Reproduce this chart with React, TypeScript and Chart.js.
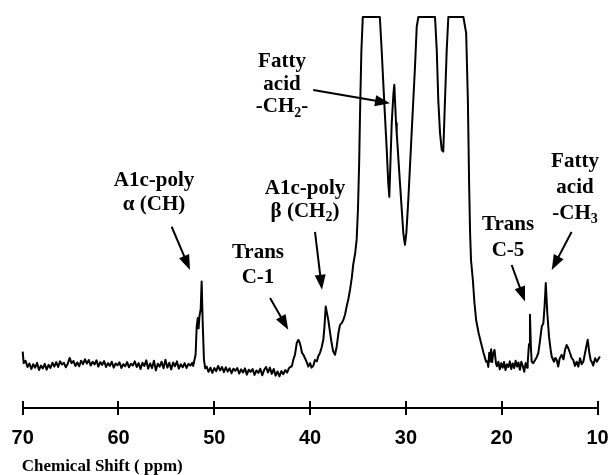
import React, { useEffect, useRef } from 'react';
import { Chart, registerables } from 'chart.js';

Chart.register(...registerables);

// ---- axis ----
const xTicks = [70, 60, 50, 40, 30, 20, 10];
const axisTitle = 'Chemical Shift ( ppm)';

// ---- spectrum data: [ppm, relative intensity] (100 = plotted top / clipped) ----
const baselineLeft: [number, number][] = [
  [70.0, 3.8], [69.9, 0.5], [69.7, 1.2], [69.5, -0.6], [69.3, 0.4], [69.1, -1.2], [68.9, 0.2], [68.7, -0.8],
  [68.5, 0.6], [68.3, -1.5], [68.1, -0.2], [67.9, -1.0], [67.7, 0.3], [67.5, -1.4], [67.3, 0.0], [67.1, -0.9],
  [66.9, 0.6], [66.7, -0.5], [66.5, 0.8], [66.3, -0.6], [66.1, 1.0], [65.9, 0.1], [65.7, 0.6], [65.5, -0.7],
  [65.3, 0.3], [65.1, 2.0], [64.9, 0.5], [64.7, 1.1], [64.5, -0.3], [64.3, 0.7], [64.1, -0.4], [63.9, 1.2],
  [63.7, 0.2], [63.5, 1.6], [63.3, 0.4], [63.1, 1.4], [62.9, -0.2], [62.7, 0.9], [62.5, 0.1], [62.3, 1.3],
  [62.1, -0.5], [61.9, 0.8], [61.7, 0.0], [61.5, 1.1], [61.3, -0.6], [61.1, 0.5], [60.9, -0.3], [60.7, 0.9],
  [60.5, -0.8], [60.3, 0.4], [60.1, -0.1], [59.9, 0.7], [59.7, -0.9], [59.5, 0.2], [59.3, -0.4], [59.1, 0.8],
  [58.9, -0.7], [58.7, 0.3], [58.5, -0.2], [58.3, 1.0], [58.1, -0.6], [57.9, 0.5], [57.7, -1.2], [57.5, 0.6],
  [57.3, -0.3], [57.1, 1.3], [56.9, -1.1], [56.7, 0.4], [56.5, -0.9], [56.3, 1.2], [56.1, -1.6], [55.9, 0.3],
  [55.7, -0.5], [55.5, 0.9], [55.3, -1.0], [55.1, 1.5], [54.9, -0.8], [54.7, 0.6], [54.5, -1.3], [54.3, 0.7],
  [54.1, -0.4], [53.9, 1.0], [53.7, -1.1], [53.5, 0.2], [53.3, -0.7], [53.1, 0.5], [52.9, -0.9], [52.7, 0.3],
  [52.5, -0.2], [52.3, 0.6],
];

const alphaPeak: [number, number][] = [
  [52.2, -0.3], [51.95, 3], [51.84, 11], [51.72, 13.5], [51.64, 10.5], [51.55, 14], [51.42, 16],
  [51.32, 24], [51.21, 12], [51.08, 1.5], [50.95, -1.0],
];

const baselineMid: [number, number][] = [
  [50.8, -0.5], [50.6, -2.0], [50.4, -0.8], [50.2, -2.3], [50.0, -0.9], [49.8, -1.8], [49.6, -0.3], [49.4, -1.6],
  [49.2, -0.6], [49.0, -2.1], [48.8, -0.7], [48.6, -1.9], [48.4, -1.0], [48.2, -2.4], [48.0, -1.1], [47.8, -1.7],
  [47.6, -0.9], [47.4, -2.5], [47.2, -1.3], [47.0, -2.2], [46.8, -1.0], [46.6, -2.8], [46.4, -1.4], [46.2, -2.0],
  [46.0, -1.2], [45.8, -2.9], [45.6, -1.6], [45.4, -2.3], [45.2, -1.1], [45.0, -3.0], [44.8, -1.5], [44.6, -0.6],
  [44.4, -2.2], [44.2, -0.8], [44.0, -2.6], [43.8, -1.2], [43.6, -3.1], [43.4, -1.9], [43.2, -3.3], [43.0, -1.8],
  [42.8, -2.7], [42.6, -1.5], [42.4, -2.2], [42.2, -0.9], [42.0, -0.5],
];

const transC1BetaPeaks: [number, number][] = [
  [41.92, -0.5], [41.75, 1.5], [41.58, 2.9], [41.4, 6.2], [41.23, 7.2], [41.1, 6.5], [40.98, 5.3], [40.85, 3.5],
  [40.7, 2.9], [40.53, 1.9], [40.35, 0.8], [40.19, -0.5], [40.0, 0.5], [39.85, -0.8], [39.67, -0.3], [39.5, 1.4],
  [39.3, 1.0], [39.15, 2.5], [38.97, 3.4], [38.8, 5.0], [38.62, 7.2], [38.5, 11], [38.37, 16.8], [38.25, 15],
  [38.1, 12.9], [37.9, 9], [37.75, 6.2], [37.6, 4], [37.4, 2.9], [37.22, 5.3], [37.05, 9], [36.88, 11.5],
  [36.7, 12], [36.53, 12.9], [36.35, 14.5], [36.18, 16.8], [36.0, 19], [35.83, 21.6], [35.65, 25], [35.49, 29],
  [35.3, 32], [35.14, 36], [35.0, 45], [34.88, 58], [34.79, 72], [34.65, 90], [34.5, 100],
];

const methyleneBand: [number, number][] = [
  [34.45, 100], [32.72, 100], [32.53, 90.5], [32.36, 81], [32.18, 71.3], [32.0, 61.8], [31.84, 52.2],
  [31.73, 48.3], [31.64, 56], [31.48, 69.5], [31.3, 78], [31.21, 80.5], [31.03, 69.5], [30.96, 66.7],
  [30.62, 52.3], [30.27, 37.9], [30.1, 34.5], [29.95, 38], [29.75, 47.4], [29.4, 66.7], [29.05, 85.7],
  [28.87, 97.2], [28.7, 100], [26.96, 100], [26.78, 90.5], [26.62, 76.1], [26.44, 66.7], [26.26, 61.8],
  [26.1, 61.3], [25.92, 76], [25.74, 90.4], [25.57, 100], [24.0, 100], [23.71, 95.4], [23.53, 76],
  [23.4, 52], [23.3, 38], [23.2, 30], [23.01, 24.4], [22.85, 18], [22.67, 12.9], [22.4, 9], [22.15, 6.2],
  [21.9, 3.5], [21.63, 0.9],
];

const baselineRight: [number, number][] = [
  [21.5, 1.0], [21.4, -0.6], [21.3, 3.5], [21.2, 1.0], [21.1, 4.5], [21.0, 0.8], [20.9, 3.0], [20.75, 4.3],
  [20.6, 0.5], [20.5, -0.4], [20.35, 0.9], [20.2, -1.3], [20.05, 0.5], [19.9, -0.8], [19.75, 0.8], [19.6, -1.5],
  [19.45, 0.2], [19.3, -0.6], [19.15, 1.0], [19.0, -1.2], [18.85, 0.4], [18.7, -0.9], [18.55, 1.2], [18.4, -0.5],
  [18.25, 0.7], [18.1, -1.4], [17.95, 0.9], [17.8, -0.3], [17.65, -2.0], [17.5, 0.5],
];

const methylPeaks: [number, number][] = [
  [17.35, -0.8], [17.29, 0.5], [17.15, 6], [17.05, 14.4], [16.95, 5], [16.87, 0.9], [16.7, 0.5], [16.5, 1.5],
  [16.35, 2.2], [16.18, 3.4], [16.0, 7], [15.82, 11], [15.65, 12], [15.52, 17], [15.4, 23.5], [15.24, 14.9],
  [15.06, 8.1], [14.9, 4.5], [14.78, 2.4], [14.54, 0.9], [14.4, 2.0], [14.26, 1.4], [14.1, -0.5], [13.95, 1.8],
  [13.74, 2.9], [13.55, 1.6], [13.4, 4.2], [13.22, 5.7], [13.05, 4.8], [12.87, 3.4], [12.7, 2.0], [12.53, 1.4],
  [12.35, -0.3], [12.17, 0.9], [12.0, -0.5], [11.82, 1.9], [11.65, 0.2], [11.48, 0.9], [11.3, 3.4], [11.15, 5.5],
  [11.02, 7.2], [10.85, 3.4], [10.7, 1.2], [10.6, 0.9], [10.45, -0.2], [10.25, 1.9], [10.07, 0.9], [9.75, 2.4],
];

// ---- annotations (anchored in data coordinates) ----
type Run = { t: string; sub?: boolean };
const notes: { ppm: number; level: number; gap: number; lines: Run[][] }[] = [
  { ppm: 56.29, level: 52.9, gap: 24, lines: [[{ t: 'A1c-poly' }], [{ t: '\u03B1 (CH)' }]] },
  { ppm: 40.53, level: 50.6, gap: 23, lines: [[{ t: 'A1c-poly' }], [{ t: '\u03B2 (CH' }, { t: '2', sub: true }, { t: ')' }]] },
  { ppm: 45.44, level: 32.2, gap: 25, lines: [[{ t: 'Trans' }], [{ t: 'C-1' }]] },
  { ppm: 42.93, level: 87.2, gap: 22.7, lines: [[{ t: 'Fatty' }], [{ t: 'acid' }], [{ t: '-CH' }, { t: '2', sub: true }, { t: '-' }]] },
  { ppm: 19.34, level: 40.2, gap: 25.5, lines: [[{ t: 'Trans' }], [{ t: 'C-5' }]] },
  { ppm: 12.35, level: 58.4, gap: 25.8, lines: [[{ t: 'Fatty' }], [{ t: 'acid' }], [{ t: '-CH' }, { t: '3', sub: true }]] },
];

const arrows: [number, number, number, number][] = [
  [54.45, 39.7, 52.54, 27.3],
  [39.49, 38.2, 38.76, 21.6],
  [44.18, 19.2, 42.28, 10.1],
  [39.67, 79.0, 31.66, 75.2],
  [18.96, 28.7, 17.57, 18.2],
  [12.71, 38.2, 14.78, 27.3],
];

const SERIF = '"Liberation Serif", "Times New Roman", Times, serif';
const SANS = '"Liberation Sans", Arial, Helvetica, sans-serif';

const annotationPlugin = {
  id: 'nmrAnnotations',
  afterDraw(chart: any) {
    const { ctx, scales, chartArea } = chart;
    const xs = scales.x;
    const ys = scales.y;
    ctx.save();
    // upper half of axis tick marks
    ctx.strokeStyle = '#000';
    ctx.lineWidth = 2;
    for (const v of xTicks) {
      const px = Math.round(xs.getPixelForValue(v));
      ctx.beginPath();
      ctx.moveTo(px, chartArea.bottom - 7);
      ctx.lineTo(px, chartArea.bottom);
      ctx.stroke();
    }
    // axis title (left aligned under the axis start)
    ctx.fillStyle = '#000';
    ctx.textBaseline = 'middle';
    ctx.textAlign = 'left';
    ctx.font = `bold 17px ${SERIF}`;
    ctx.fillText(axisTitle, chartArea.left - 1, xs.bottom - 8.5);
    // labels
    const mainFont = `bold 21px ${SERIF}`;
    const subFont = `bold 14px ${SERIF}`;
    for (const n of notes) {
      const cx = xs.getPixelForValue(n.ppm);
      const cy0 = ys.getPixelForValue(n.level);
      n.lines.forEach((runs, i) => {
        const cy = cy0 + i * n.gap;
        let w = 0;
        for (const r of runs) {
          ctx.font = r.sub ? subFont : mainFont;
          w += ctx.measureText(r.t).width;
        }
        let x = cx - w / 2;
        for (const r of runs) {
          ctx.font = r.sub ? subFont : mainFont;
          ctx.fillText(r.t, x, r.sub ? cy + 6 : cy);
          x += ctx.measureText(r.t).width;
        }
      });
    }
    // arrows
    for (const [p1, l1, p2, l2] of arrows) {
      const x1 = xs.getPixelForValue(p1);
      const y1 = ys.getPixelForValue(l1);
      const x2 = xs.getPixelForValue(p2);
      const y2 = ys.getPixelForValue(l2);
      const ang = Math.atan2(y2 - y1, x2 - x1);
      const L = 15;
      const W = 5.5;
      const bx = x2 - L * Math.cos(ang);
      const by = y2 - L * Math.sin(ang);
      ctx.lineWidth = 2;
      ctx.beginPath();
      ctx.moveTo(x1, y1);
      ctx.lineTo(bx + 2 * Math.cos(ang), by + 2 * Math.sin(ang));
      ctx.stroke();
      ctx.beginPath();
      ctx.moveTo(x2, y2);
      ctx.lineTo(bx + W * Math.sin(ang), by - W * Math.cos(ang));
      ctx.lineTo(bx - W * Math.sin(ang), by + W * Math.cos(ang));
      ctx.closePath();
      ctx.fill();
    }
    ctx.restore();
  },
};

export default function App() {
  const canvasRef = useRef<HTMLCanvasElement | null>(null);

  useEffect(() => {
    const canvas = canvasRef.current;
    if (!canvas) return;
    const points = [
      ...baselineLeft,
      ...alphaPeak,
      ...baselineMid,
      ...transC1BetaPeaks,
      ...methyleneBand,
      ...baselineRight,
      ...methylPeaks,
    ].map(([x, y]) => ({ x, y }));

    const chart = new Chart(canvas, {
      type: 'line',
      data: {
        datasets: [
          {
            data: points,
            borderColor: '#000',
            borderWidth: 2,
            borderJoinStyle: 'round',
            pointRadius: 0,
            tension: 0,
            fill: false,
            clip: 4,
          } as any,
        ],
      },
      options: {
        animation: false,
        responsive: false,
        devicePixelRatio: 1,
        events: [],
        layout: { padding: { left: 22.7, right: 12.5, top: 17, bottom: 0 } },
        plugins: { legend: { display: false }, tooltip: { enabled: false }, title: { display: false } },
        scales: {
          x: {
            type: 'linear',
            reverse: true,
            min: 10,
            max: 70,
            afterFit: (scale: any) => {
              scale.height = 67;
              scale.paddingLeft = 0;
              scale.paddingRight = 0;
            },
            ticks: {
              stepSize: 10,
              autoSkip: false,
              maxRotation: 0,
              padding: 11,
              color: '#000',
              font: { family: SANS, size: 20, weight: 'bold' },
            },
            grid: {
              display: true,
              drawOnChartArea: false,
              drawTicks: true,
              tickLength: 7,
              color: '#000',
              lineWidth: 2,
            },
            border: { display: true, color: '#000', width: 2 },
            title: { display: false },
          },
          y: {
            display: false,
            min: -12.4,
            max: 100,
          },
        },
      } as any,
      plugins: [annotationPlugin],
    });
    return () => chart.destroy();
  }, []);

  return (
    <div style={{ position: 'absolute', left: 0, top: 0, width: 610, height: 475, background: '#fff' }}>
      <canvas ref={canvasRef} width={610} height={475} style={{ display: 'block' }} />
    </div>
  );
}
